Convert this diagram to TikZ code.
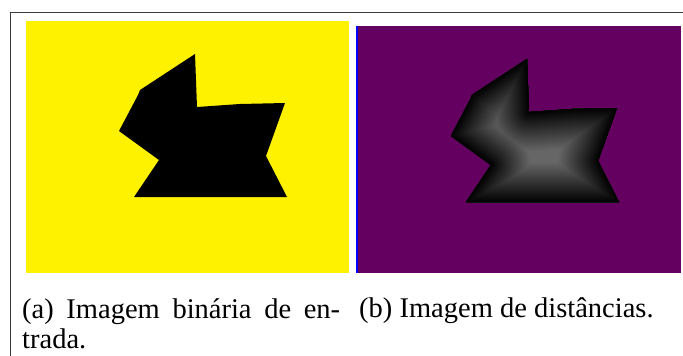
\documentclass[tikz,border=0pt]{standalone}
\usepackage{fontspec}
\setmainfont{Liberation Serif}
\usepackage{xcolor}
\usetikzlibrary{positioning}

\definecolor{distpurple}{RGB}{99,0,96}
\definecolor{framegray}{RGB}{60,60,60}

% outline of the shape (pixel coordinates of the input image)
\newcommand{\blobpath}{(195,54) -- (197,107) -- (240,104) -- (285,103) -- (266,156) -- (287,197) -- (134,197) -- (159,160) -- (119,131) -- (138,95) -- (140,90) -- cycle}

\begin{document}
\begin{tikzpicture}[
    x=1pt, y=-1pt,
    frame/.style={draw=framegray, line width=1pt},
    caption/.style={inner sep=0pt, font=\fontsize{28.5}{30}\selectfont}
]
    \useasboundingbox (0,0) rectangle (683,356);
    \draw[frame] (683,12) -- (10,12) -- (10,356);

    % (a) input image
    \fill[yellow] (26,21) rectangle (349,273);
    \fill[black] \blobpath;

    % (b) distance image
    \fill[distpurple] (356,26) rectangle (681,273);
    \fill[blue] (356,26) rectangle (358,273);
    \begin{scope}[shift={(332,5)}]
        \clip \blobpath;
        \fill[black!60] \blobpath;
        \foreach \d in {40,39,...,1} {
            \pgfmathsetmacro\lev{100-1.0*\d}
            \draw[black!\lev, line width={2*\d}, line join=round] \blobpath;
        }
    \end{scope}

    \node[caption, text width=318pt, align=justify, anchor=north west] (capA) at (22,298) {(a) Imagem binária de en-\linebreak trada.};
    \node[caption, anchor=base west] (capB) at (359,317) {(b) Imagem de distâncias.};
\end{tikzpicture}
\end{document}
